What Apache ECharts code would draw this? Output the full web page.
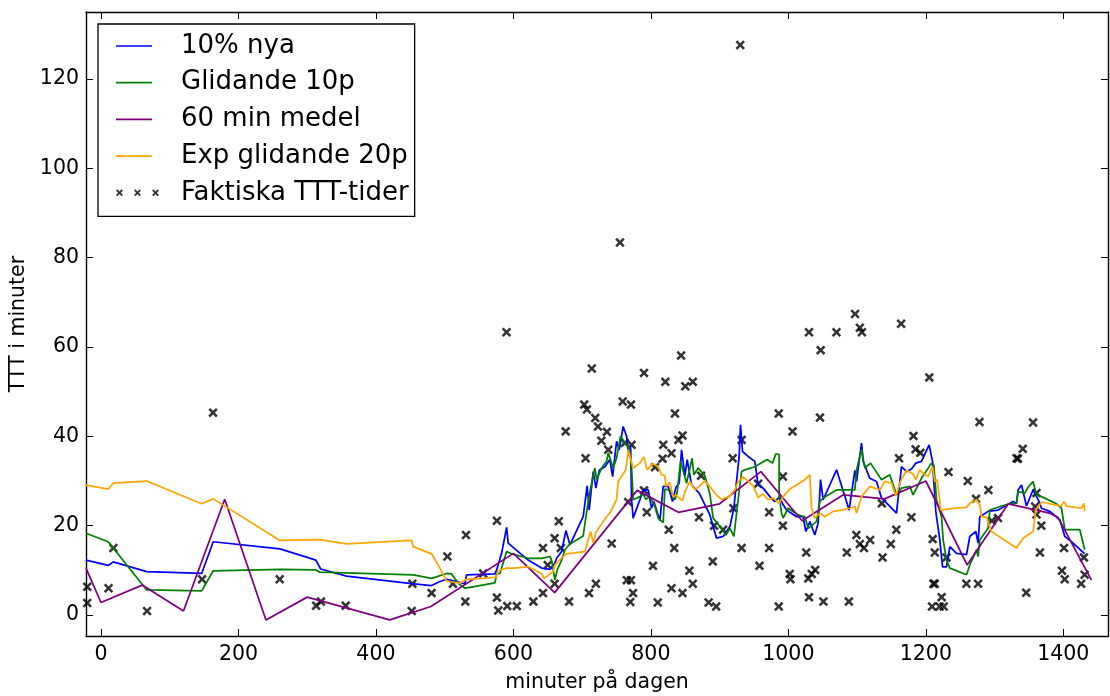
<!DOCTYPE html>
<html>
<head>
<meta charset="utf-8">
<script src="https://cdn.jsdelivr.net/npm/echarts@6/dist/echarts.min.js"></script>
<style>html,body{margin:0;padding:0;background:#fff}#chart{width:1110px;height:696px}</style>
</head>
<body>
<div id="chart"></div>
<script>
// ---- data (minutes of day, TTT in minutes) ----
const scatterTime = [-20,-20,11,18,67,163,147,260,313,320,356,453,452,481,504,512,531,556,530,576,576,578,591,605,629,643,643,650,660,666,669,660,681,710,720,743,705,676,703,707,719,723,736,728,738,759,771,762,772,767,765,771,774,770,590,714,755,790,821,844,850,861,835,840,846,818,817,830,806,790,794,803,826,834,830,846,810,856,861,873,870,884,895,892,890,905,919,920,932,932,958,956,972,972,986,992,992,986,1006,1002,1003,1026,1029,1034,1039,1030,1051,1030,1047,1070,1046,1085,1088,1097,1104,1107,1099,1104,1110,1119,1136,1137,1149,1157,1161,1164,1179,1182,1185,1192,1205,1210,1213,1211,1213,1209,1223,1220,1226,1230,1233,1259,1276,1261,1273,1278,1291,1296,1305,1332,1334,1341,1356,1361,1359,1361,1368,1366,1346,1401,1398,1402,1430,1426,1431,930];
const scatterTTT = [6.3,2.7,6.0,15.0,0.9,45.3,8.0,8.0,2.1,3.0,2.1,7.0,0.9,4.9,13.1,7.0,17.9,9.3,3.0,21.1,3.9,1.0,2.0,2.0,3.0,4.9,15.0,11.2,17.2,21.0,15.0,7.0,3.0,4.9,7.0,16.0,35.1,41.1,47.1,46.0,44.1,42.2,41.0,39.0,37.0,47.8,47.1,38.5,38.1,25.3,7.8,7.8,4.9,2.9,63.3,55.2,83.4,54.2,52.2,58.1,51.2,52.2,45.1,39.2,40.2,38.1,35.0,36.2,33.1,27.9,23.0,11.0,19.1,15.0,6.0,4.9,2.8,9.9,7.0,31.2,21.9,2.8,1.9,20.0,12.0,19.1,35.1,23.9,39.2,15.0,11.0,29.4,23.0,15.0,45.1,31.0,20.0,1.9,41.1,9.2,8.0,14.0,8.2,9.2,10.1,4.0,3.0,63.3,59.3,63.3,44.2,14.0,3.0,67.4,64.3,63.3,17.9,15.9,15.0,16.8,25.0,12.9,15.9,19.1,35.1,65.2,21.9,40.1,37.1,36.3,53.2,17.0,14.0,7.0,7.0,1.9,4.0,1.9,1.9,12.9,32.0,7.0,7.0,30.0,26.0,43.2,28.0,21.1,21.7,35.1,35.0,37.2,43.1,27.3,24.3,22.5,20.0,14.0,5.0,15.0,9.9,8.0,12.9,7.0,9.0,127.6];

const nyaTime = [-21.8,10.6,17.9,66.5,146.5,163.3,260.4,312.7,319.6,357.4,451.9,481.0,493.1,502.8,507.6,529.5,531.9,573.1,575.6,582.8,590.1,592.4,621.5,641.0,653.1,660.4,662.8,670.1,676.4,682.2,701.5,707.3,710.2,716.1,720.0,724.8,733.1,740.3,744.3,750.1,753.9,759.7,764.6,768.4,770.5,771.9,774.2,784.0,788.8,796.1,801.0,804.3,813.1,817.9,825.1,831.5,836.4,841.2,844.6,849.5,852.8,859.2,870.2,885.8,895.5,905.1,914.9,920.7,924.6,928.4,930.4,933.3,941.5,951.2,956.0,963.3,973.1,980.3,987.6,991.5,997.3,1011.9,1021.5,1025.4,1031.3,1038.5,1043.3,1046.8,1050.6,1070.1,1088.4,1096.7,1099.2,1106.4,1108.8,1118.5,1128.3,1135.5,1147.6,1157.3,1164.6,1171.9,1179.2,1185.4,1193.7,1204.8,1209.7,1214.5,1220.3,1224.3,1230.1,1234.9,1244.6,1259.2,1264.0,1272.7,1276.0,1278.5,1290.6,1293.1,1305.1,1326.9,1331.9,1334.2,1339.2,1346.4,1356.0,1364.8,1368.3,1380.4,1394.9,1402.2,1411.9,1431.2];
const nyaTTT = [12.3,11.1,11.9,9.7,9.3,16.4,14.8,12.3,10.3,8.7,7.0,6.6,7.5,8.0,7.8,7.0,9.0,9.2,10.1,13.8,19.6,16.1,12.3,10.5,10.2,11.6,12.7,14.2,18.9,15.7,22.0,28.9,23.5,32.1,28.4,32.4,33.2,34.8,31.0,38.9,37.0,42.2,40.0,35.5,37.7,25.8,21.7,25.8,28.0,28.0,23.9,25.4,21.1,28.8,28.8,25.4,28.6,29.5,37.0,31.2,34.8,29.1,27.3,22.4,17.2,17.6,19.8,23.9,29.9,35.5,42.6,36.6,35.5,34.4,29.1,28.4,26.5,25.4,26.5,24.9,23.5,22.0,22.0,18.7,20.9,17.9,20.6,30.3,25.8,32.5,23.5,32.4,29.9,38.5,34.4,30.6,29.9,26.2,24.3,22.8,33.2,32.1,32.7,34.0,34.4,38.1,34.4,23.2,16.8,10.8,10.8,15.3,13.8,13.5,17.6,18.7,16.1,22.0,23.2,22.8,23.5,25.4,25.0,28.0,29.1,24.4,28.0,25.4,23.9,23.2,21.3,17.6,16.4,13.7];

const glidTime = [-21.8,10.6,66.5,146.5,163.3,260.4,312.7,318.5,454.2,481.0,502.8,510.1,519.7,529.5,536.7,573.1,575.6,580.4,590.1,597.4,621.5,641.0,653.1,655.6,660.4,663.7,670.1,674.9,682.2,701.5,707.3,712.3,718.5,721.0,728.3,735.5,737.9,745.1,750.1,755.9,762.2,768.4,771.9,774.2,784.0,788.8,792.7,798.5,805.8,810.6,817.9,820.3,828.6,834.9,838.2,843.2,851.9,860.0,862.5,868.8,878.5,885.8,890.6,902.8,909.1,914.9,920.7,927.0,931.9,936.7,951.2,969.1,977.0,981.8,986.6,986.6,990.1,992.4,999.7,1014.2,1024.0,1028.8,1040.9,1045.8,1050.6,1070.1,1096.7,1099.2,1106.4,1111.3,1119.5,1135.5,1147.6,1157.3,1164.6,1176.7,1181.5,1193.7,1208.2,1211.6,1215.5,1222.8,1225.2,1230.1,1234.9,1259.2,1264.0,1273.7,1276.0,1278.5,1290.6,1293.1,1310.1,1322.2,1331.9,1334.2,1344.0,1348.8,1356.0,1361.0,1368.3,1390.1,1397.3,1402.2,1424.0,1431.2];
const glidTTT = [18.3,16.4,5.6,5.4,9.9,10.2,10.1,9.6,9.0,8.2,9.3,9.2,7.1,6.0,6.2,7.2,9.2,9.3,14.2,13.7,12.7,12.7,13.1,12.3,7.8,10.1,12.3,14.6,15.9,17.7,23.9,28.4,32.9,30.3,32.9,34.4,36.3,32.9,35.1,40.1,38.5,37.4,33.2,25.8,26.5,27.1,25.9,26.5,24.3,21.7,20.7,28.2,27.9,25.8,27.4,34.4,29.5,35.1,31.4,32.9,31.2,27.1,21.7,19.4,17.9,19.4,17.6,25.8,32.1,32.5,33.2,34.8,34.0,36.1,35.9,26.5,22.8,21.7,23.9,22.4,22.0,19.4,20.9,25.4,26.2,28.0,28.0,32.5,37.0,32.9,34.0,30.3,31.4,26.9,28.4,28.8,26.9,30.6,34.0,33.6,25.8,22.0,16.8,12.3,10.5,9.0,11.2,14.6,13.1,16.8,19.4,23.5,24.4,24.9,25.0,27.6,27.3,28.6,29.9,26.9,26.5,24.9,23.9,19.1,19.1,14.6];

const medelTime = [-21.8,0,60,120,180,240,300,420,480,600,660,780,840,900,960,1020,1080,1140,1200,1260,1320,1380,1392,1441];
const medelTTT = [10.5,2.8,6.7,0.9,25.9,-1.1,4.0,-1.1,1.9,13.8,5.0,27.9,23.0,24.9,32.1,21.1,26.9,26.0,30.0,11.2,24.9,22.8,21.9,7.8];

const expTime = [-21.8,10.6,17.9,66.5,146.5,163.3,260.4,318.5,357.4,451.9,454.2,481.0,493.1,502.8,507.6,522.2,531.9,556.1,575.6,577.9,590.1,599.7,621.5,641.0,644.4,657.9,660.4,666.6,677.4,704.0,712.3,716.1,720.0,735.5,740.3,750.1,752.4,763.6,767.0,774.2,784.0,789.8,794.6,803.3,810.6,815.5,820.3,821.8,827.6,832.4,836.4,841.2,846.1,849.5,856.7,864.0,870.2,878.5,884.8,896.4,902.8,913.9,922.2,927.0,934.2,939.2,948.8,956.0,963.3,970.6,977.9,986.6,992.4,1002.2,1011.9,1024.0,1031.3,1033.7,1038.5,1045.8,1053.1,1065.1,1077.4,1089.4,1096.7,1099.2,1106.4,1118.5,1133.0,1140.3,1150.1,1156.3,1163.2,1171.9,1181.5,1185.4,1191.2,1197.1,1203.3,1209.7,1213.0,1216.4,1221.8,1239.7,1259.2,1264.0,1273.7,1278.5,1281.0,1288.3,1295.5,1331.9,1341.5,1356.0,1359.9,1368.3,1397.3,1400.7,1404.6,1426.4,1429.8,1431.2];
const expTTT = [29.1,28.2,29.5,30.0,24.9,26.0,16.7,16.9,15.9,16.7,15.3,13.7,10.5,7.6,7.5,7.1,8.0,8.2,8.5,9.9,10.5,10.5,10.8,9.3,8.2,9.7,11.2,12.3,13.7,14.2,18.7,16.1,18.5,22.0,22.8,25.8,29.9,32.5,37.0,32.9,34.0,35.4,32.5,33.9,33.2,31.4,31.2,28.8,29.7,26.4,26.9,26.2,25.6,27.6,29.9,28.0,28.8,30.0,28.9,26.7,25.9,26.5,28.0,29.9,30.9,30.3,28.9,26.3,27.1,25.8,26.2,25.0,26.5,28.2,29.1,30.3,31.4,23.9,21.7,22.8,22.0,23.2,23.5,23.9,24.3,22.8,26.5,28.8,28.0,29.9,29.5,26.7,29.9,32.4,31.6,30.3,32.5,31.6,31.0,33.2,29.9,30.3,23.5,23.9,24.1,25.0,25.8,24.7,22.0,21.9,18.7,15.0,17.2,18.7,23.5,25.3,24.4,25.4,24.4,23.9,25.0,23.2];

const seriesNames = ['10% nya', 'Glidande 10p', '60 min medel', 'Exp glidande 20p', 'Faktiska TTT-tider'];
const xAxisTitle = 'minuter på dagen';
const yAxisTitle = 'TTT i minuter';

// ---- styling ----
const FONT = 'DejaVu Sans';
const colors = ['#0000ff', '#008000', '#800080', '#ffa500', '#000000'];
const xRange = [-21.8, 1465];
const yRange = [-4.7, 135];

function zip(a, b) { return a.map((v, i) => [v, b[i]]); }

// "x" marker shape (10x10 box)
const d = 1.9;
const xPts = [[0,d],[d,0],[5,5-d],[10-d,0],[10,d],[5+d,5],[10,10-d],[10-d,10],[5,5+d],[d,10],[0,10-d],[5-d,5]];
function xShape(ox) {
  return 'M' + xPts.map(p => (p[0] + ox) + ',' + p[1]).join('L') + 'Z';
}
const markerPath = 'path://' + xShape(0);
const markerLegendPath = 'path://' + xShape(0) + ' ' + xShape(26) + ' ' + xShape(52);
const lineLegendPath = 'path://M0,0h36v1.75h-36z M43,0h0.01v1.75h-0.01z';

const chart = echarts.init(document.getElementById('chart'), null, {renderer: 'canvas'});

const plainNum = v => String(Math.round(v * 100) / 100);

const axisCommon = {
  type: 'value',
  splitLine: {show: false},
  axisLine: {show: true, onZero: false, lineStyle: {color: '#000', width: 1.4}},
  axisTick: {show: true, inside: true, length: 7, lineStyle: {color: '#000', width: 1}},
};

function xAxisCfg(pos, showLabels) {
  return Object.assign({}, axisCommon, {
    position: pos,
    min: xRange[0], max: xRange[1],
    splitNumber: 7, minInterval: 200, maxInterval: 200,
    axisLabel: {show: showLabels, showMinLabel: false, showMaxLabel: false, margin: 8,
      fontFamily: FONT, fontSize: 20.5, color: '#000', formatter: plainNum},
  });
}
function yAxisCfg(pos, showLabels) {
  return Object.assign({}, axisCommon, {
    position: pos,
    min: yRange[0], max: yRange[1],
    splitNumber: 7, minInterval: 20, maxInterval: 20,
    axisLabel: {show: showLabels, showMinLabel: false, showMaxLabel: false, margin: 7,
      fontFamily: FONT, fontSize: 20.5, color: '#000', formatter: plainNum},
  });
}

const xBottom = xAxisCfg('bottom', true);
xBottom.name = xAxisTitle;
xBottom.nameLocation = 'middle';
xBottom.nameGap = 36;
xBottom.nameTextStyle = {fontFamily: FONT, fontSize: 20.5, color: '#000'};

const yLeft = yAxisCfg('left', true);
yLeft.name = yAxisTitle;
yLeft.nameLocation = 'middle';
yLeft.nameGap = 50;
yLeft.nameTextStyle = {fontFamily: FONT, fontSize: 20.5, color: '#000'};

const lineData = [zip(nyaTime, nyaTTT), zip(glidTime, glidTTT), zip(medelTime, medelTTT), zip(expTime, expTTT)];

const series = lineData.map((dd, i) => ({
  name: seriesNames[i],
  type: 'line',
  data: dd,
  xAxisIndex: 0, yAxisIndex: 0,
  symbol: 'none', showSymbol: false,
  lineStyle: {color: colors[i], width: 1.75},
  itemStyle: {color: colors[i]},
  clip: true,
  silent: true,
}));
series.push({
  name: seriesNames[4],
  type: 'scatter',
  data: zip(scatterTime, scatterTTT),
  xAxisIndex: 0, yAxisIndex: 0,
  symbol: markerPath,
  symbolSize: 9.5,
  itemStyle: {color: '#000', borderWidth: 0},
  clip: true,
  silent: true,
});

const legendData = seriesNames.map((n, i) => ({
  name: n,
  icon: i < 4 ? lineLegendPath : markerLegendPath,
  itemStyle: {color: colors[i], borderWidth: 0},
}));

chart.setOption({
  animation: false,
  backgroundColor: '#ffffff',
  grid: {left: 86, right: 2, top: 12, bottom: 60, containLabel: false, outerBoundsMode: 'none'},
  xAxis: [xBottom, xAxisCfg('top', false)],
  yAxis: [yLeft, yAxisCfg('right', false)],
  legend: {
    orient: 'vertical',
    left: 98, top: 24,
    padding: [7, 6, 8.5, 18],
    backgroundColor: '#ffffff',
    borderColor: '#000', borderWidth: 1.3, borderRadius: 0,
    itemWidth: 43, itemHeight: 7, itemGap: 6.7,
    symbolKeepAspect: true,
    selectedMode: false,
    textStyle: {fontFamily: FONT, fontSize: 26, color: '#000', lineHeight: 30, padding: [0, 0, 0, 17]},
    data: legendData,
  },
  series: series,
});
</script>
</body>
</html>
